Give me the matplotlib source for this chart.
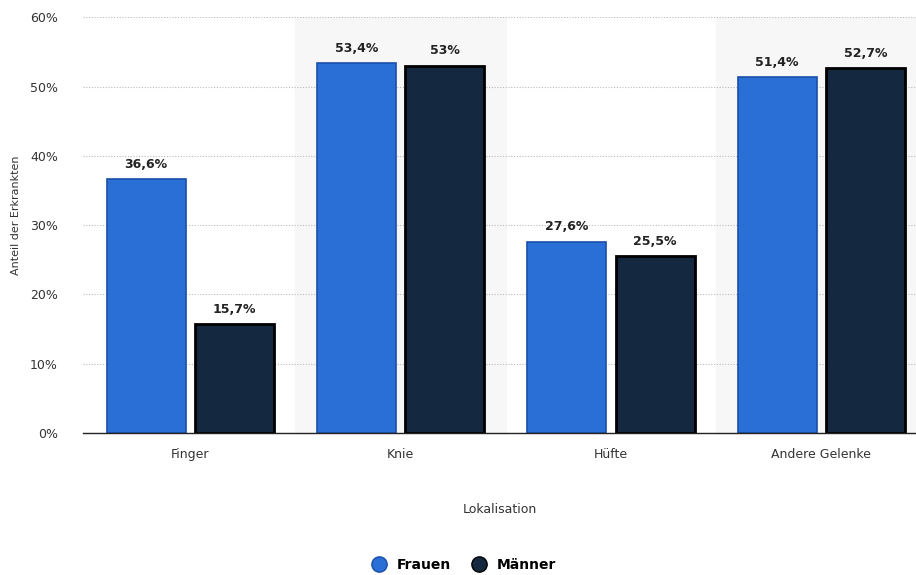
import numpy as np
import matplotlib.pyplot as plt

# data
categories = ['Finger', 'Knie', 'Hüfte', 'Andere Gelenke']
frauen = [36.6, 53.4, 27.6, 51.4]
maenner = [15.7, 53.0, 25.5, 52.7]
frauen_labels = ['36,6%', '53,4%', '27,6%', '51,4%']
maenner_labels = ['15,7%', '53%', '25,5%', '52,7%']

blue = '#2a6fd6'
navy = '#14283f'

fig = plt.figure(figsize=(9.16, 5.75), dpi=100)
ax = fig.add_axes([0.0906, 0.247, 0.9094, 0.723])

x = np.arange(len(categories))
w = 0.375
off = 0.21

# alternating band shading
for i in x:
    if i % 2 == 1:
        ax.axvspan(i - 0.5, i + 0.5, color='#f7f7f7', zorder=0)

b1 = ax.bar(x - off, frauen, w, color=blue, edgecolor='#1a4fa8', linewidth=1.2, zorder=3, label='Frauen')
b2 = ax.bar(x + off, maenner, w, color=navy, edgecolor='black', linewidth=2.0, zorder=3, label='Männer')

for rect, lab in zip(b1, frauen_labels):
    ax.text(rect.get_x() + rect.get_width() / 2, rect.get_height() + 1.2, lab,
            ha='center', va='bottom', fontsize=9, fontweight='bold', color='#222222')
for rect, lab in zip(b2, maenner_labels):
    ax.text(rect.get_x() + rect.get_width() / 2, rect.get_height() + 1.2, lab,
            ha='center', va='bottom', fontsize=9, fontweight='bold', color='#222222')

ax.set_xlim(-0.51, 3.45)
ax.set_ylim(0, 60)
ax.set_yticks(np.arange(0, 61, 10))
ax.set_yticklabels([f'{v}%' for v in range(0, 61, 10)])
ax.set_xticks(x)
ax.set_xticklabels(categories)
ax.tick_params(axis='both', length=0, labelsize=9, colors='#333333')
ax.tick_params(axis='y', pad=18)
ax.tick_params(axis='x', pad=11)

ax.yaxis.grid(True, linestyle=(0, (1, 1.5)), color='#bbbbbb', linewidth=0.8, zorder=1)
ax.set_axisbelow(True)
for s in ['top', 'right', 'left']:
    ax.spines[s].set_visible(False)
ax.spines['bottom'].set_color('#222222')
ax.spines['bottom'].set_linewidth(1.0)
ax.spines['bottom'].set_zorder(4)

ax.set_xlabel('Lokalisation', fontsize=9, color='#333333', labelpad=30)
fig.text(0.017, 0.625, 'Anteil der Erkrankten', rotation=90, ha='center', va='center',
         fontsize=8, color='#333333')

handles = [
    plt.Line2D([], [], marker='o', linestyle='', markersize=11, markerfacecolor=blue, markeredgecolor='#1a4fa8'),
    plt.Line2D([], [], marker='o', linestyle='', markersize=11, markerfacecolor=navy, markeredgecolor='black'),
]
leg = fig.legend(handles, ['Frauen', 'Männer'], loc='center', bbox_to_anchor=(0.503, 0.018),
                 ncol=2, frameon=False, handletextpad=0.3, columnspacing=1.0,
                 prop={'weight': 'bold', 'size': 10})

fig.savefig('out.png', dpi=100)
